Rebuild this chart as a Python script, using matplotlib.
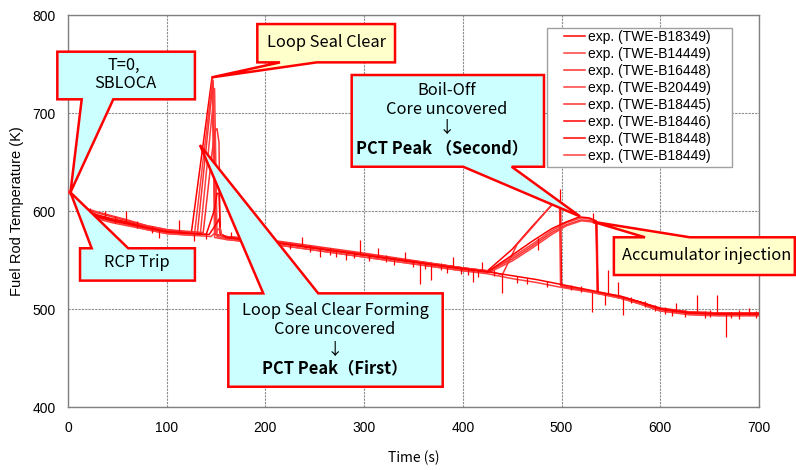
import numpy as np
import matplotlib.pyplot as plt
from matplotlib.patches import Polygon, Rectangle

plt.rcParams['font.family'] = ['Liberation Sans', 'DejaVu Sans']

labels = ["exp. (TWE-B18349)", "exp. (TWE-B14449)", "exp. (TWE-B16448)",
          "exp. (TWE-B20449)", "exp. (TWE-B18445)", "exp. (TWE-B18446)",
          "exp. (TWE-B18448)", "exp. (TWE-B18449)"]
colors = ['#ff0000', '#ff4040', '#ff3030', '#ff4040',
          '#ff3030', '#ff0000', '#ff0000', '#ff4040']

# time (s) / fuel rod temperature (K) for each test
t_18349 = [0, 3, 10, 20, 30, 45, 60, 80, 100, 125, 146, 149, 160, 215, 300, 400, 425,
           450, 470, 490, 492, 499, 500, 530, 560, 580, 600, 630, 660, 700]
T_18349 = [620, 618, 609, 600, 596, 592, 589, 584, 580, 578, 737, 576, 574, 568, 556, 542, 539,
           561, 584, 606, 608, 606, 523, 518, 512, 507, 501, 497, 496, 496]

t_14449 = [0, 3, 10, 20, 30, 45, 60, 80, 100, 128, 146.5, 148.5, 160, 215, 300, 400, 425,
           450, 470, 490, 505, 520, 528, 536, 537, 560, 580, 600, 630, 660, 700]
T_14449 = [620, 617, 608, 598, 593, 589, 586, 581, 577, 575, 735, 573, 571, 565, 553, 539, 537,
           553, 566, 580, 588, 593, 592, 589, 516, 511, 505, 498, 495, 494, 494]

t_16448 = [0, 3, 10, 20, 30, 45, 60, 80, 100, 131, 147, 150, 160, 215, 300, 400, 425,
           450, 470, 490, 505, 520, 530, 535, 536, 560, 580, 600, 630, 660, 700]
T_16448 = [620, 618, 610, 601, 598, 594, 590, 585, 581, 577, 733, 576, 574, 569, 557, 542, 538,
           551, 564, 578, 586, 591, 590, 588, 517, 513, 507, 500, 497, 496, 495]

t_20449 = [0, 3, 10, 20, 30, 45, 60, 80, 100, 134, 148.5, 151, 160, 215, 300, 400, 428,
           450, 470, 490, 505, 520, 530, 535, 536.5, 560, 580, 600, 630, 660, 700]
T_20449 = [619, 617, 609, 599, 594, 590, 587, 583, 579, 576, 725, 574, 572, 567, 555, 540, 538,
           549, 562, 576, 585, 590, 589, 587, 517, 511, 506, 499, 496, 495, 494]

t_18445 = [0, 3, 10, 20, 30, 45, 60, 80, 100, 137, 146, 149, 151, 153, 154, 160, 215, 300,
           400, 425, 440, 455, 470, 488, 491, 498, 499, 530, 560, 580, 600, 630, 660, 700]
T_18445 = [620, 618, 610, 602, 599, 595, 591, 585, 581, 578, 660, 682, 684, 670, 577, 574, 568, 556,
           542, 539, 535, 566, 583, 604, 607, 605, 524, 518, 512, 506, 500, 496, 495, 495]

t_18446 = [0, 3, 10, 20, 30, 45, 60, 80, 100, 140, 148, 151, 153, 154.5, 160, 215, 300, 400,
           425, 450, 470, 490, 505, 518, 528, 535, 537, 560, 580, 600, 630, 660, 700]
T_18446 = [620, 617, 608, 599, 594, 590, 587, 582, 578, 576, 600, 618, 618, 577, 573, 567, 555, 541,
           538, 555, 569, 582, 589, 594, 593, 590, 516, 512, 507, 500, 496, 495, 494]

t_18448 = [0, 3, 10, 20, 30, 45, 60, 80, 100, 143, 151, 153, 155, 160, 215, 300, 400, 425,
           450, 475, 500, 530, 560, 580, 600, 630, 660, 700]
T_18448 = [620, 618, 609, 600, 595, 591, 588, 583, 579, 576, 588, 592, 576, 573, 567, 555, 541, 538,
           534, 530, 525, 519, 513, 507, 500, 496, 495, 495]

t_18449 = [0, 3, 10, 20, 30, 45, 60, 80, 100, 145, 152, 154, 156, 160, 215, 300, 400, 425,
           450, 475, 500, 530, 560, 580, 600, 630, 660, 700]
T_18449 = [620, 617, 608, 597, 592, 588, 585, 581, 577, 574, 581, 583, 574, 571, 565, 553, 539, 536,
           531, 527, 522, 517, 511, 505, 498, 494, 493, 493]

times = [t_18349, t_14449, t_16448, t_20449, t_18445, t_18446, t_18448, t_18449]
temps = [T_18349, T_14449, T_16448, T_20449, T_18445, T_18446, T_18448, T_18449]

# thermocouple noise spikes: time, low end, high end
spike_t = [37, 59, 92, 112, 128, 165, 195, 237, 255, 282, 296, 314, 341, 357, 368, 390,
           410, 419, 440, 476, 498, 531.5, 530.5, 544, 547, 557, 562, 616, 637, 657, 667, 680, 690,
           22, 48, 70, 85, 140, 175, 185, 205, 225, 245, 265, 272, 290, 305, 322, 330, 350,
           362, 378, 384, 398, 405, 415, 432, 455, 465, 485, 510, 520, 570, 585, 595, 605,
           612, 625, 645, 650, 672, 697]
spike_lo = [594, 588, 572, 578, 569, 572, 566, 564, 553, 550, 555, 552, 549, 526, 530, 543,
            528, 539, 516, 560, 606, 590, 497, 504, 515, 512, 494, 497, 496, 495, 471, 490, 494,
            597, 588, 583, 578, 571, 568, 566, 562, 561, 558, 555, 553, 552, 549, 548, 545, 543,
            541, 540, 537, 536, 535, 533, 534, 527, 526, 522, 519, 517, 506, 502, 498, 495,
            493, 492, 491, 492, 491, 491]
spike_hi = [600, 600, 581, 591, 577, 579, 573, 573, 563, 557, 570, 562, 558, 548, 546, 553,
            541, 548, 536, 572, 622, 598, 517, 515, 540, 528, 512, 506, 514, 514, 495, 499, 501,
            603, 595, 590, 585, 578, 575, 571, 569, 567, 565, 562, 560, 558, 556, 555, 552, 550,
            548, 547, 544, 543, 541, 540, 540, 534, 532, 529, 525, 523, 512, 508, 504, 502,
            500, 499, 498, 499, 497, 498]

fig = plt.figure(figsize=(7.96, 4.70), dpi=100)
ax = fig.add_axes([0.0854, 0.1340, 0.8681, 0.8340])

handles = []
for t, T, c, lab in zip(times, temps, colors, labels):
    h, = ax.plot(t, T, color=c, lw=1.1, label=lab, zorder=3)
    handles.append(h)
ax.vlines(spike_t, spike_lo, spike_hi, color='#ff0000', lw=0.9, zorder=3)

ax.set_xlim(0, 700)
ax.set_ylim(400, 800)
ax.set_xticks(np.arange(0, 701, 100))
ax.set_yticks(np.arange(400, 801, 100))
ax.tick_params(length=0, labelsize=10)
ax.tick_params(axis='y', pad=9)
ax.tick_params(axis='x', pad=10)
ax.grid(True, color='#8c8c8c', lw=0.8, linestyle=(0, (2, 1)))
for s in ax.spines.values():
    s.set_color('#808080')
    s.set_linewidth(1.0)
ax.set_axisbelow(True)

ax.set_xlabel('Time (s)', fontsize=10, family=['Noto Sans CJK JP', 'DejaVu Sans'], labelpad=11)
ax.set_ylabel('Fuel Rod Temperature (K)', fontsize=10.5, labelpad=6)

# legend with its own frame
ax.add_patch(Rectangle((0.6936, 0.6130), 0.9605 - 0.6936, 0.9661 - 0.6130,
                       transform=ax.transAxes, facecolor='white', edgecolor='#a0a0a0',
                       lw=1.0, zorder=6))
leg = ax.legend(handles=handles, loc='upper left', bbox_to_anchor=(0.7178, 0.962),
                frameon=False, fontsize=10, handlelength=1.5, handletextpad=0.25,
                labelspacing=0.22, borderpad=0, borderaxespad=0)
leg.set_zorder(7)

cyan = '#ccffff'
yellow = '#ffffcc'
jp = ['Noto Sans CJK JP', 'DejaVu Sans']


def callout(box, side, base, tip, face):
    x0, x1, y0, y1 = box
    b0, b1 = base
    if side == 'bottom':
        verts = [(x0, y1), (x1, y1), (x1, y0), (b1, y0), tip, (b0, y0), (x0, y0)]
    else:
        verts = [(x0, y1), (b0, y1), tip, (b1, y1), (x1, y1), (x1, y0), (x0, y0)]
    ax.add_patch(Polygon(verts, closed=True, facecolor=face, edgecolor='#ff0000',
                         lw=1.8, zorder=8, clip_on=False, joinstyle='miter'))


def note(x, y, s, bold=False):
    ax.text(x, y, s, ha='center', va='center', fontsize=11.8, family=jp,
            fontweight='bold' if bold else 'normal', zorder=9, clip_on=False)


callout((-10.8, 128.6, 714, 762.6), 'bottom', (13.9, 45.9), (2.5, 619), cyan)
note(56.7, 749, 'T=0,')
note(57.7, 730, 'SBLOCA')

callout((12.2, 128.6, 529, 562), 'top', (24, 61), (2.5, 619), cyan)
note(69.6, 547.5, 'RCP Trip')

callout((191.8, 331.3, 751.7, 790.8), 'bottom', (214.8, 251.9), (145.6, 736.4), yellow)
note(261.4, 772.3, 'Loop Seal Clear')

callout((287.4, 482.2, 645.2, 738.8), 'bottom', (400.4, 449.5), (518.7, 594.5), cyan)
note(383.6, 723.5, 'Boil-Off')
note(383.6, 703.1, 'Core uncovered')
note(383.6, 684.7, '↓')
note(378.9, 664.0, 'PCT Peak （Second）', bold=True)

callout((162.4, 379.6, 420.7, 516), 'top', (197.8, 253.5), (133.7, 667.3), cyan)
note(270.5, 499.0, 'Loop Seal Clear Forming')
note(270.5, 479.3, 'Core uncovered')
note(270.5, 458.2, '↓')
note(270.5, 439.5, 'PCT Peak（First）', bold=True)

callout((553, 736.3, 534.7, 573.2), 'top', (584.5, 630), (532, 589), yellow)
note(647.0, 554.6, 'Accumulator injection')

fig.savefig('out.png', dpi=100)
